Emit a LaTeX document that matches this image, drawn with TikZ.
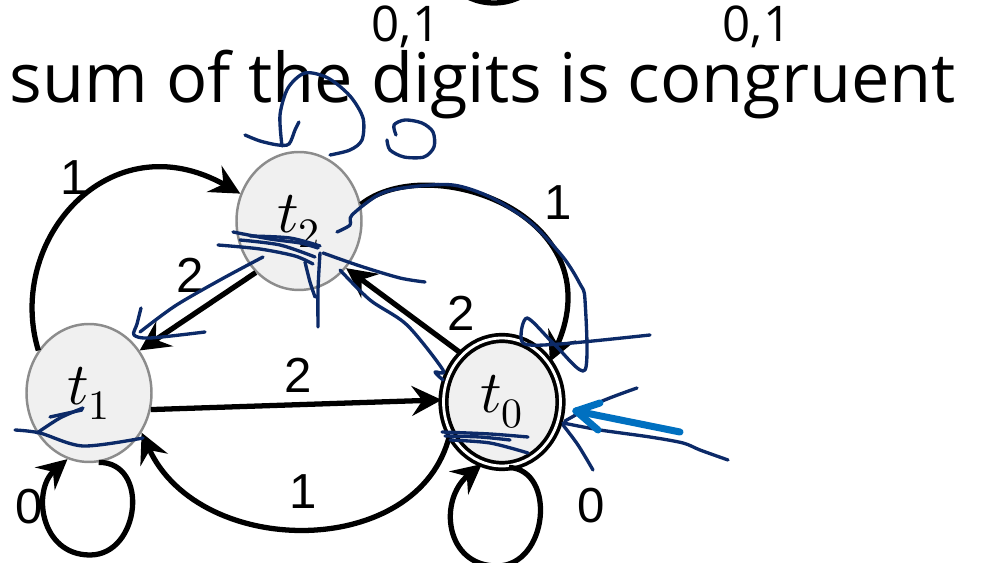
\documentclass[tikz,border=0pt]{standalone}
\usepackage{fontspec}
\usepackage{unicode-math}
\setmainfont{Open Sans}
\setmathfont{Latin Modern Math}
\newfontfamily\digitfont{Liberation Sans}
\usetikzlibrary{arrows.meta, positioning, calc, shapes.geometric}
\definecolor{statefill}{HTML}{F0F0F0}
\definecolor{stateline}{HTML}{8C8C8C}
\definecolor{inkblue}{HTML}{0C2A68}
\definecolor{penblue}{HTML}{0070C0}

\begin{document}
\begin{tikzpicture}[
    x=0.02cm, y=-0.02cm,
    st/.style={draw=stateline, line width=1.4pt, fill=statefill, ellipse, inner sep=0pt, minimum width=2.5cm, minimum height=2.76cm, font=\fontsize{34}{40}\selectfont},
    acc/.style={st, draw=black, line width=2.1pt, double=white, double distance=1.6pt, minimum width=2.34cm, minimum height=2.56cm},
    trans/.style={line width=3pt, -{Stealth[length=17pt, width=17pt, inset=6pt]}},
    lbl/.style={font=\digitfont\fontsize{28}{32}\selectfont, inner sep=0pt},
    ink/.style={draw=inkblue, line width=1.9pt, line cap=round, line join=round},
    pen/.style={draw=penblue, line width=4pt, line cap=round}
]
\useasboundingbox (0,0) rectangle (985,563);

% top of the slide
\draw[line width=3pt] (494,-57) circle (1.2cm);
\node[font=\fontsize{28}{32}\selectfont, inner sep=0pt] (lab01a) at (406,27) {0,1};
\node[font=\fontsize{28}{32}\selectfont, inner sep=0pt] (lab01b) at (757,27) {0,1};
\node[font=\fontsize{39}{46}\selectfont, inner sep=0pt, anchor=base] (title) at (483,103) {sum of the digits is congruent};

% states
\node[st] (t2) at (299,221) {$t_2$};
\node[st] (t1) at (89,393) {$t_1$};
\node[acc] (t0) at (502,402) {$t_0$};
\coordinate (t1low) at (90,555);
\coordinate (t0low) at (497,566);

% transitions
\draw[trans] (t1.140) .. controls (5,240) and (110,120) .. (t2.155);
\draw[trans] (t2.230) -- (t1.40);
\draw[trans] (t0.130) -- (t2.-45);
\draw[trans] (t2.15) .. controls (430,150) and (615,215) .. (t0.40);
\draw[trans] (t1.-15) -- (t0.178);
\draw[trans] (t0.212) .. controls (420,560) and (200,560) .. (t1.-37);
\draw[trans] (t1.-82) .. controls (150,462) and (140,555) .. (t1low)
             .. controls (40,555) and (32,490) .. (t1.-108);
\draw[trans] (t0.-84) .. controls (557,470) and (548,566) .. (t0low)
             .. controls (445,566) and (438,500) .. (t0.-108);

% labels
\node[lbl] (l12) at (74,178) {1};
\node[lbl] (l21) at (190,275) {2};
\node[lbl] (l20) at (558,203) {1};
\node[lbl] (l02) at (461,313) {2};
\node[lbl] (l10) at (298,375) {2};
\node[lbl] (l01) at (303,492) {1};
\node[lbl] (l11) at (29,507) {0};
\node[lbl] (l00) at (591,506) {0};

% ink on the slide
\draw[ink] plot[smooth] coordinates {(282,146) (280,115) (288,88) (305,73) (328,78) (350,96) (363,118) (362,140) (350,150) (330,155)};
\draw[ink] plot[smooth] coordinates {(245,135) (260,141) (278,145) (289,144) (295,130) (299,122)};
\draw[ink] plot[smooth] coordinates {(396,135) (394,125) (405,120) (422,123) (433,132) (434,147) (424,157) (404,157) (390,150) (387,140)};
\draw[ink] plot[smooth] coordinates {(233,232) (270,239) (300,243) (318,248)};
\draw[ink] plot[smooth] coordinates {(218,245) (260,249) (295,256) (313,264)};
\draw[ink] plot[smooth] coordinates {(240,240) (280,245) (315,257)};
\draw[ink] plot[smooth] coordinates {(250,236) (290,238) (320,246)};
\draw[ink] plot[smooth] coordinates {(320,253) (318,290) (318,327)};
\draw[ink] plot[smooth] coordinates {(305,262) (310,282) (315,297)};
\draw[ink] plot[smooth] coordinates {(323,253) (360,266) (400,278) (425,282)};
\draw[ink] plot[smooth] coordinates {(340,270) (370,300) (407,325) (443,370) (435,372) (443,380)};
\draw[ink] plot[smooth] coordinates {(263,257) (220,280) (175,306) (140,332)};
\draw[ink] plot[smooth] coordinates {(141,308) (137,324) (134,335) (150,338) (205,332)};
\draw[ink] plot[smooth] coordinates {(337,232) (350,225) (352,215) (380,194) (410,187) (453,185) (490,197) (530,222) (563,257) (580,284) (585,300) (585,370) (555,345) (527,318) (523,343) (560,344) (650,335)};
\draw[ink] plot[smooth] coordinates {(442,432) (490,434) (528,437)};
\draw[ink] plot[smooth] coordinates {(450,440) (490,443) (528,453)};
\draw[ink] plot[smooth] coordinates {(445,436) (480,437) (510,440)};
\draw[ink] plot[smooth] coordinates {(637,388) (600,402) (565,421)};
\draw[ink] plot[smooth] coordinates {(563,423) (600,430) (650,437) (683,443) (700,450) (728,460)};
\draw[ink] plot[smooth] coordinates {(563,425) (578,445) (593,470)};
\draw[ink] plot[smooth] coordinates {(15,430) (40,433) (83,446) (143,438)};
\draw[ink] plot[smooth] coordinates {(37,433) (60,418) (83,408)};
\draw[ink] plot[smooth] coordinates {(50,417) (82,410)};
\draw[pen] (680,432) -- (576,411);
\draw[pen] (576,411) -- (600,403);
\draw[pen] (576,411) -- (598,430);
\end{tikzpicture}
\end{document}
